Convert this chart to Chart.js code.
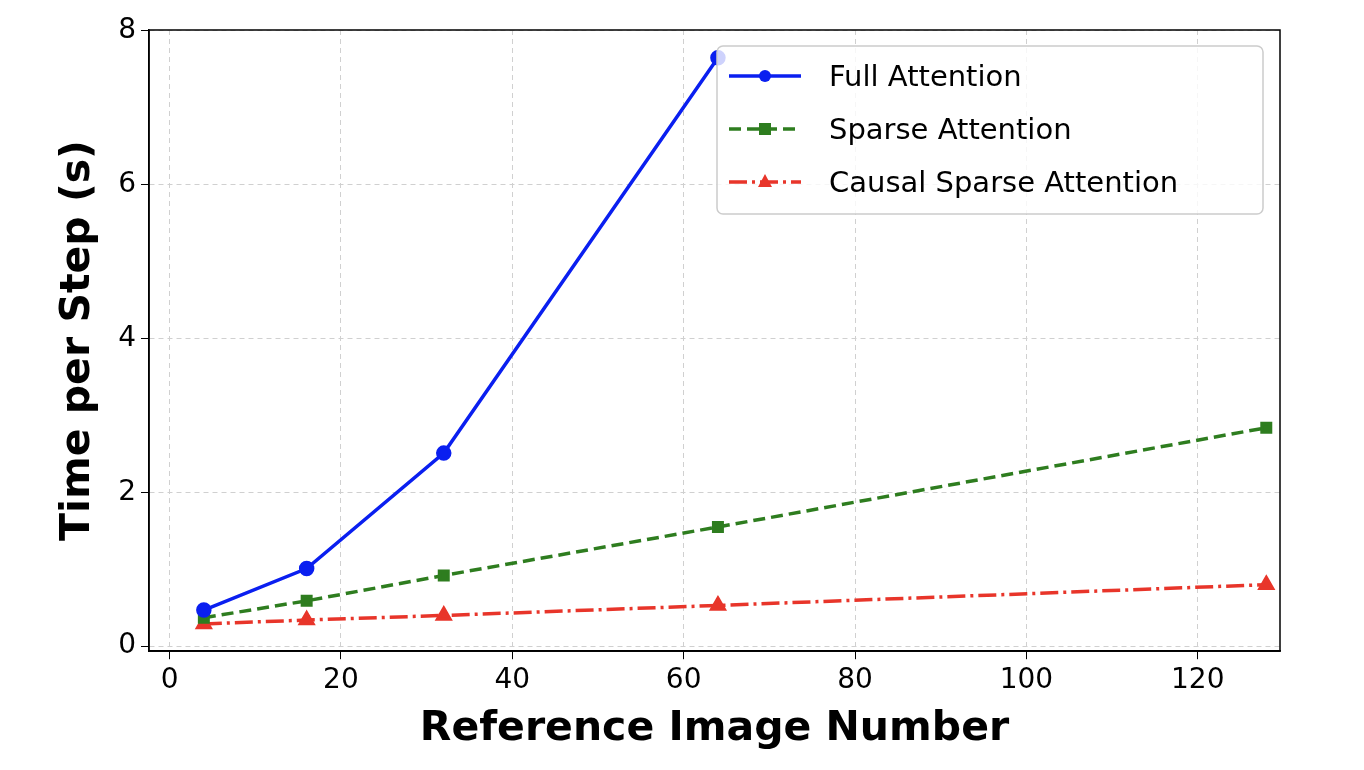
<!DOCTYPE html>
<html><head><meta charset="utf-8">
<script src="https://cdn.jsdelivr.net/npm/chart.js@4/dist/chart.umd.min.js"></script>
<style>body{margin:0;background:#fff}</style>
</head><body>
<canvas id="graph" width="1364" height="770"></canvas>
<script>
// data
var fullX = [4, 16, 32, 64];
var fullY = [0.47, 1.01, 2.51, 7.65];
var sparseX = [4, 16, 32, 64, 128];
var sparseY = [0.37, 0.59, 0.92, 1.55, 2.84];
var causalX = [4, 16, 32, 64, 128];
var causalY = [0.29, 0.34, 0.40, 0.53, 0.80];
var xTicks = [0, 20, 40, 60, 80, 100, 120];
var yTicks = [0, 2, 4, 6, 8];

function pts(xs, ys) { return xs.map(function (x, i) { return {x: x, y: ys[i]}; }); }

var FONT = 'DejaVu Sans';

// legend box drawn inside the plot, top right
var boxLegend = {
  id: 'boxLegend',
  afterDraw: function (chart) {
    var c = chart.ctx, a = chart.chartArea;
    var w = 546, h = 168, x0 = a.right - 17 - w, y0 = a.top + 16;
    c.save();
    c.fillStyle = 'rgba(255,255,255,0.8)';
    c.strokeStyle = '#cccccc';
    c.lineWidth = 1.5;
    c.beginPath();
    c.roundRect(x0, y0, w, h, 6);
    c.fill(); c.stroke();
    c.font = '29px "' + FONT + '"';
    c.textBaseline = 'middle';
    chart.data.datasets.forEach(function (ds, i) {
      var y = y0 + 30 + i * 53;
      c.strokeStyle = ds.borderColor;
      c.lineWidth = 3.5;
      c.setLineDash(ds.borderDash || []);
      c.beginPath(); c.moveTo(x0 + 12, y); c.lineTo(x0 + 84, y); c.stroke();
      c.setLineDash([]);
      c.fillStyle = ds.borderColor;
      var cx = x0 + 48;
      c.beginPath();
      if (ds.pointStyle === 'rect') c.rect(cx - 6, y - 6, 12, 12);
      else if (ds.pointStyle === 'triangle') { c.moveTo(cx, y - 8); c.lineTo(cx + 7, y + 5); c.lineTo(cx - 7, y + 5); c.closePath(); }
      else c.arc(cx, y, 6, 0, Math.PI * 2);
      c.fill();
      c.fillStyle = '#000';
      c.fillText(ds.label, x0 + 112, y + 2);
    });
    c.restore();
  }
};

new Chart(document.getElementById('graph').getContext('2d'), {
  type: 'scatter',
  data: {
    datasets: [
      { label: 'Full Attention', data: pts(fullX, fullY), showLine: true,
        borderColor: '#0a1ff0', backgroundColor: '#0a1ff0', borderWidth: 3.5,
        pointStyle: 'circle', pointRadius: 6 },
      { label: 'Sparse Attention', data: pts(sparseX, sparseY), showLine: true,
        borderColor: '#2e7d1f', backgroundColor: '#2e7d1f', borderWidth: 3.5, borderDash: [12, 6],
        pointStyle: 'rect', pointRadius: 6 },
      { label: 'Causal Sparse Attention', data: pts(causalX, causalY), showLine: true,
        borderColor: '#e8352a', backgroundColor: '#e8352a', borderWidth: 3.5, borderDash: [18, 5, 3, 5],
        pointStyle: 'triangle', pointRadius: 7 }
    ]
  },
  options: {
    responsive: false,
    animation: false,
    layout: { padding: { top: 30, right: 84, left: 50, bottom: 12 } },
    plugins: { legend: { display: false }, tooltip: { enabled: false } },
    scales: {
      x: {
        type: 'linear', min: -2.4, max: 129.6,
        afterBuildTicks: function (s) { s.ticks = xTicks.map(function (v) { return {value: v}; }); },
        grid: { color: '#d0d0d0', tickLength: 8, tickColor: '#000' },
        border: { color: '#000', width: 1.5, dash: [5, 4] },
        ticks: { color: '#000', font: { family: FONT, size: 28 }, padding: 5 },
        title: { display: true, text: 'Reference Image Number', color: '#000',
                 font: { family: FONT, size: 41, weight: 'bold' }, padding: { top: 2 } }
      },
      y: {
        min: -0.065, max: 8.01,
        afterBuildTicks: function (s) { s.ticks = yTicks.map(function (v) { return {value: v}; }); },
        grid: { color: '#d0d0d0', tickLength: 8, tickColor: '#000' },
        border: { color: '#000', width: 1.5, dash: [5, 4] },
        ticks: { color: '#000', font: { family: FONT, size: 28 }, padding: 5 },
        title: { display: true, text: 'Time per Step (s)', color: '#000',
                 font: { family: FONT, size: 41, weight: 'bold' }, padding: { bottom: 10 } }
      }
    }
  },
  plugins: [boxLegend, {
    id: 'frame',
    afterDraw: function (chart) {
      var c = chart.ctx, a = chart.chartArea;
      c.save(); c.strokeStyle = '#000'; c.lineWidth = 1.5; c.setLineDash([]);
      c.strokeRect(a.left, a.top, a.right - a.left, a.bottom - a.top);
      c.restore();
    }
  }]
});
</script>
</body></html>
